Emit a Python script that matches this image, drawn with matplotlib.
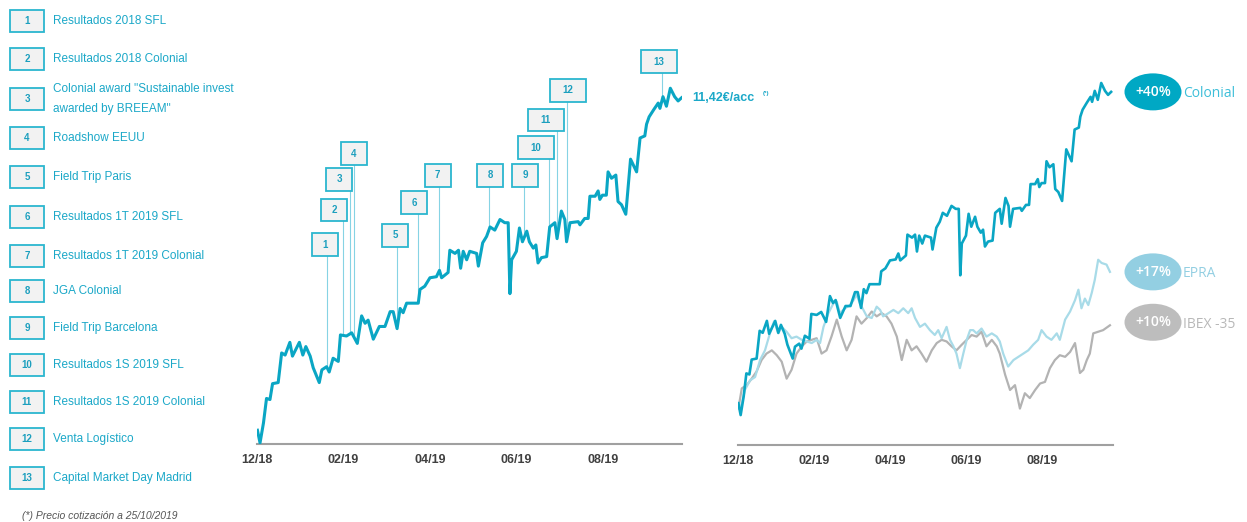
import numpy as np
import matplotlib.pyplot as plt
from matplotlib.patches import Rectangle, Ellipse

plt.rcParams["font.family"] = ["Liberation Sans", "DejaVu Sans"]

# Cotización Colonial (€/acc); x = meses desde el cierre 31/12/2018
col_mes = [0.01, 0.07, 0.15, 0.22, 0.30, 0.36, 0.49, 0.57, 0.65, 0.76, 0.82, 0.98, 1.06, 1.13,
           1.23, 1.30, 1.44, 1.50, 1.61, 1.67, 1.76, 1.88, 1.93, 2.07, 2.19, 2.32, 2.42, 2.50,
           2.57, 2.69, 2.83, 2.96, 3.08, 3.15, 3.24, 3.31, 3.38, 3.46, 3.73, 3.77, 3.88, 4.00,
           4.15, 4.22, 4.27, 4.42, 4.46, 4.58, 4.66, 4.71, 4.77, 4.85, 4.92, 5.08, 5.12, 5.22,
           5.31, 5.39, 5.50, 5.62, 5.73, 5.81, 5.85, 5.89, 6.00, 6.07, 6.14, 6.24, 6.30, 6.39,
           6.45, 6.50, 6.58, 6.70, 6.77, 6.89, 6.94, 7.04, 7.12, 7.16, 7.24, 7.43, 7.47, 7.58,
           7.66, 7.70, 7.82, 7.89, 7.93, 7.99, 8.08, 8.12, 8.20, 8.30, 8.35, 8.43, 8.53, 8.64,
           8.78, 8.86, 8.97, 9.01, 9.07, 9.18, 9.28, 9.32, 9.39, 9.47, 9.56, 9.66, 9.74, 9.82]
col_precio = [8.28, 8.16, 8.35, 8.58, 8.57, 8.72, 8.73, 9.01, 8.99, 9.11, 8.98, 9.11, 8.99, 9.07,
              8.98, 8.87, 8.73, 8.85, 8.88, 8.83, 8.96, 8.93, 9.18, 9.17, 9.20, 9.10, 9.36, 9.29,
              9.32, 9.14, 9.26, 9.26, 9.40, 9.40, 9.24, 9.43, 9.39, 9.48, 9.48, 9.61, 9.64, 9.72,
              9.73, 9.79, 9.72, 9.77, 9.98, 9.95, 9.98, 9.81, 9.97, 9.89, 9.97, 9.95, 9.83, 10.05,
              10.11, 10.20, 10.17, 10.27, 10.24, 10.24, 9.57, 9.89, 9.97, 10.19, 10.06, 10.16, 10.06, 10.00,
              10.03, 9.86, 9.91, 9.92, 10.20, 10.24, 10.09, 10.35, 10.27, 10.06, 10.24, 10.25, 10.22, 10.28,
              10.28, 10.49, 10.49, 10.54, 10.46, 10.50, 10.50, 10.72, 10.66, 10.69, 10.44, 10.41, 10.32, 10.84,
              10.72, 11.04, 11.06, 11.17, 11.24, 11.31, 11.37, 11.32, 11.43, 11.34, 11.51, 11.43, 11.39, 11.42]
precio_base = 8.16  # cierre 12/18

# EPRA e IBEX-35, variación acumulada (%)
epra_mes = [0.01, 0.10, 0.18, 0.32, 0.45, 0.58, 0.71, 0.84, 0.95, 1.06, 1.15, 1.28, 1.41, 1.54,
            1.68, 1.81, 1.94, 2.07, 2.16, 2.25, 2.38, 2.51, 2.60, 2.68, 2.82, 2.95, 3.04, 3.12,
            3.21, 3.30, 3.39, 3.52, 3.65, 3.74, 3.82, 3.96, 4.09, 4.22, 4.35, 4.48, 4.57, 4.66,
            4.79, 4.92, 5.05, 5.18, 5.27, 5.36, 5.49, 5.58, 5.67, 5.75, 5.84, 5.93, 6.02, 6.11,
            6.19, 6.28, 6.41, 6.54, 6.68, 6.81, 6.89, 6.98, 7.11, 7.25, 7.38, 7.51, 7.64, 7.77,
            7.90, 7.99, 8.12, 8.25, 8.39, 8.47, 8.61, 8.74, 8.87, 8.96, 9.04, 9.13, 9.22, 9.31,
            9.39, 9.48, 9.57, 9.70, 9.79]
epra_pct = [0.8, 1.4, 3.1, 4.3, 4.7, 6.8, 8.0, 10.1, 11.6, 10.1, 10.9, 10.3, 9.5, 9.7,
            9.3, 9.1, 8.9, 9.3, 8.9, 10.9, 12.6, 13.8, 14.0, 12.6, 13.2, 13.6, 14.2, 14.9,
            13.8, 13.0, 12.2, 12.0, 13.4, 13.0, 12.2, 12.6, 13.0, 12.6, 13.2, 12.6, 13.2, 12.0,
            10.9, 11.3, 10.5, 9.9, 10.5, 9.5, 10.9, 9.3, 8.5, 7.6, 5.8, 7.6, 9.3, 10.5,
            10.5, 10.1, 10.7, 9.7, 10.1, 9.7, 9.1, 7.6, 6.0, 6.8, 7.2, 7.6, 8.0, 8.7,
            9.3, 10.5, 9.7, 9.3, 10.1, 9.3, 11.8, 12.8, 14.2, 15.5, 13.2, 14.4, 13.6, 15.1,
            16.7, 19.2, 18.8, 18.6, 17.7]
ibex_mes = [0.01, 0.10, 0.23, 0.36, 0.49, 0.62, 0.75, 0.89, 1.02, 1.15, 1.28, 1.41, 1.54, 1.68,
            1.81, 1.94, 2.07, 2.20, 2.33, 2.46, 2.60, 2.73, 2.86, 2.99, 3.12, 3.25, 3.39, 3.52,
            3.65, 3.78, 3.91, 4.04, 4.18, 4.31, 4.44, 4.57, 4.70, 4.83, 4.96, 5.10, 5.23, 5.36,
            5.49, 5.62, 5.75, 5.89, 6.02, 6.15, 6.28, 6.41, 6.54, 6.68, 6.81, 6.89, 7.03, 7.16,
            7.29, 7.42, 7.55, 7.68, 7.82, 7.95, 8.08, 8.21, 8.34, 8.47, 8.61, 8.74, 8.87, 9.00,
            9.09, 9.18, 9.26, 9.35, 9.48, 9.61, 9.79]
ibex_pct = [0.8, 3.3, 3.7, 4.5, 5.4, 6.8, 7.6, 8.0, 7.4, 6.6, 4.5, 5.6, 7.6, 8.5,
            9.1, 9.3, 9.5, 7.6, 8.0, 9.7, 11.8, 9.7, 8.0, 9.3, 12.2, 11.3, 12.0, 12.8,
            12.2, 12.6, 12.2, 11.3, 9.7, 6.8, 9.3, 8.0, 8.5, 7.6, 6.6, 8.0, 8.9, 9.3,
            9.1, 8.5, 8.0, 8.7, 9.3, 9.9, 9.7, 10.3, 8.5, 9.3, 8.5, 7.6, 5.0, 3.1,
            3.7, 0.8, 2.7, 2.1, 3.1, 3.9, 4.1, 5.8, 6.8, 7.4, 7.2, 7.8, 8.9, 5.2,
            5.6, 6.8, 7.6, 10.1, 10.3, 10.5, 11.1]

# Hitos
hitos = ["Resultados 2018 SFL", "Resultados 2018 Colonial",
         "Colonial award \"Sustainable invest\nawarded by BREEAM\"", "Roadshow EEUU",
         "Field Trip Paris", "Resultados 1T 2019 SFL", "Resultados 1T 2019 Colonial",
         "JGA Colonial", "Field Trip Barcelona", "Resultados 1S 2019 SFL",
         "Resultados 1S 2019 Colonial", "Venta Logístico", "Capital Market Day Madrid"]
hito_mes = [1.62, 1.99, 2.15, 2.24, 3.24, 3.72, 4.21, 5.36, 6.17, 6.75, 6.94, 7.17, 9.36]

ticks_mes = [0, 2, 4, 6, 8]
ticks_txt = ["12/18", "02/19", "04/19", "06/19", "08/19"]

resumen_txt = ["+40%", "+17%", "+10%"]
resumen_nombre = ["Colonial", "EPRA", "IBEX -35"]

C_COL = "#0aa6c4"
C_EPRA = "#a8dbe8"
C_IBEX = "#b3b3b3"
C_TXT = "#1ba8c8"
C_BORDE = "#2bb6cf"

W, H = 1247, 522
fig = plt.figure(figsize=(W / 100, H / 100), dpi=100)

# capa en píxeles para leyenda de hitos y etiquetas
ax0 = fig.add_axes([0, 0, 1, 1])
ax0.set_xlim(0, W)
ax0.set_ylim(H, 0)
ax0.axis("off")

fila_y = [21, 59, 99, 138, 177, 217, 256, 291, 328, 365, 402, 439, 478]
for i, (txt, y) in enumerate(zip(hitos, fila_y)):
    ax0.add_patch(Rectangle((10, y - 11), 34, 22, facecolor="#f2f2f2",
                            edgecolor=C_BORDE, lw=1.3))
    ax0.text(27, y, str(i + 1), ha="center", va="center", fontsize=7,
             fontweight="bold", color="#1c9fbe")
    ax0.text(53, y, txt, ha="left", va="center", fontsize=8.5, color=C_TXT,
             linespacing=1.9)

ax0.text(22, 516, "(*) Precio cotización a 25/10/2019", ha="left", va="center",
         fontsize=7.5, style="italic", color="#555555")

# gráfico central: cotización con hitos
ax1 = fig.add_axes([257 / W, 78 / H, 425 / W, 414 / H])
ax1.patch.set_visible(False)
ax1.plot(col_mes, col_precio, color=C_COL, lw=2.2, zorder=3)
ax1.set_xlim(0, 9.83)
ax1.set_ylim(8.15, 12.06)

# cajas de hitos (posición de la caja: meses, €)
caja_pos = [(1.57, 10.03), (1.78, 10.36), (1.90, 10.65), (2.24, 10.89), (3.19, 10.12),
            (3.63, 10.43), (4.18, 10.69), (5.39, 10.69), (6.20, 10.69), (6.45, 10.95),
            (6.68, 11.21), (7.19, 11.49), (9.29, 11.76)]
alto = 0.217
for i, ((cx, cy), xm) in enumerate(zip(caja_pos, hito_mes)):
    ancho = 0.60 if i < 9 else 0.83
    yv = np.interp(xm, col_mes, col_precio)
    ax1.plot([xm, xm], [cy - alto / 2, yv], color="#86d3e4", lw=0.8, zorder=2)
    ax1.add_patch(Rectangle((cx - ancho / 2, cy - alto / 2), ancho, alto,
                            facecolor="#f2f2f2", edgecolor=C_BORDE, lw=1.3,
                            zorder=4, clip_on=False))
    ax1.text(cx, cy, str(i + 1), ha="center", va="center", fontsize=7,
             fontweight="bold", color="#1c9fbe", zorder=5)

ax1.text(col_mes[-1] + 0.25, col_precio[-1], "11,42€/acc", ha="left",
         va="center", fontsize=9, fontweight="bold", color=C_TXT)
ax1.text(col_mes[-1] + 1.88, col_precio[-1] + 0.04, "(*)", ha="left",
         va="center", fontsize=4.5, fontweight="bold", color=C_TXT)

# gráfico derecho: comparativa en %
ax2 = fig.add_axes([738 / W, 77 / H, 375 / W, 415 / H])
ax2.patch.set_visible(False)
col_pct = (np.array(col_precio) / precio_base - 1) * 100
ax2.plot(ibex_mes, ibex_pct, color=C_IBEX, lw=1.6, zorder=2)
ax2.plot(epra_mes, epra_pct, color=C_EPRA, lw=1.6, zorder=2)
ax2.plot(col_mes, col_pct, color=C_COL, lw=1.9, zorder=3)
ax2.set_xlim(0, 9.87)
ax2.set_ylim(-3.7, 47.6)

for ax in (ax1, ax2):
    for s in ("top", "right", "left"):
        ax.spines[s].set_visible(False)
    ax.spines["bottom"].set_color("#a0a0a0")
    ax.spines["bottom"].set_linewidth(1.5)
    ax.set_yticks([])
    ax.set_xticks(ticks_mes)
    ax.set_xticklabels(ticks_txt)
    ax.tick_params(axis="x", length=0, pad=7, labelsize=9, labelcolor="#404040")
    for lb in ax.get_xticklabels():
        lb.set_fontweight("bold")

# burbujas de rentabilidad a la altura del último valor
finales = [col_pct[-1], epra_pct[-1], ibex_pct[-1]]
burbuja_col = ["#00a8c4", "#93cfe2", "#bdbdbd"]
nombre_col = ["#3dbfd9", "#93cfe2", "#b8b8b8"]
ajuste_y = [0, 0, -3]
for val, txt, nom, cb, cn, dy in zip(finales, resumen_txt, resumen_nombre,
                                      burbuja_col, nombre_col, ajuste_y):
    _, py = ax2.transData.transform((0, val))
    y = H - py + dy
    ax0.add_patch(Ellipse((1153, y), 57, 37, facecolor=cb, edgecolor="none"))
    ax0.text(1153, y, txt, ha="center", va="center", fontsize=10,
             family="Open Sans", color="white", fontweight="semibold")
    ax0.text(1183, y + 2, nom, ha="left", va="center", fontsize=10,
             family="Open Sans", color=cn)

fig.savefig("out.png", dpi=100)
